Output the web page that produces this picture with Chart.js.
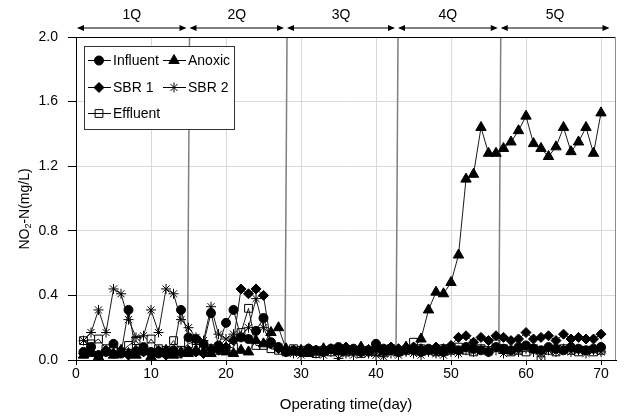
<!DOCTYPE html>
<html>
<head>
<meta charset="utf-8">
<script src="https://cdn.jsdelivr.net/npm/chart.js@4.4.1/dist/chart.umd.min.js"></script>
<style>
  html, body { margin: 0; padding: 0; background: #fff; }
  #wrap { width: 626px; height: 418px; }
</style>
</head>
<body>
<div id="wrap"><canvas id="no2-chart" width="626" height="418"></canvas></div>
<script>
const days = [
  1, 2, 3, 4, 5, 6, 7, 8, 9, 10, 11, 12, 13, 14, 15, 16, 17, 18, 19, 20,
  21, 22, 23, 24, 25, 26, 27, 28, 29, 30, 31, 32, 33, 34, 35, 36, 37, 38, 39, 40,
  41, 42, 43, 44, 45, 46, 47, 48, 49, 50, 51, 52, 53, 54, 55, 56, 57, 58, 59, 60,
  61, 62, 63, 64, 65, 66, 67, 68, 69, 70
];

const influent = [
  0.05, 0.08, 0.03, 0.05, 0.10, 0.04, 0.31, 0.05, 0.08, 0.05, 0.04, 0.05, 0.06, 0.31, 0.14, 0.13, 0.10, 0.29, 0.09, 0.23,
  0.31, 0.14, 0.13, 0.18, 0.26, 0.11, 0.08, 0.05, 0.06, 0.05, 0.07, 0.06, 0.05, 0.07, 0.08, 0.06, 0.07, 0.05, 0.06, 0.10,
  0.07, 0.06, 0.05, 0.07, 0.06, 0.05, 0.07, 0.06, 0.05, 0.07, 0.06, 0.08, 0.07, 0.06, 0.05, 0.08, 0.07, 0.06, 0.08, 0.09,
  0.07, 0.06, 0.08, 0.07, 0.06, 0.08, 0.07, 0.06, 0.07, 0.08
];
const anoxic = [
  0.03, 0.04, 0.02, 0.05, 0.03, 0.06, 0.04, 0.03, 0.05, 0.02, 0.04, 0.06, 0.03, 0.05, 0.04, 0.06, 0.05, 0.04, 0.07, 0.05,
  0.04, 0.06, 0.05, 0.12, 0.10, 0.17, 0.20, 0.07, 0.05, 0.06, 0.04, 0.05, 0.07, 0.06, 0.05, 0.07, 0.06, 0.08, 0.06, 0.07,
  0.05, 0.07, 0.06, 0.08, 0.07, 0.13, 0.31, 0.42, 0.41, 0.48, 0.65, 1.12, 1.15, 1.44, 1.28, 1.28, 1.31, 1.35, 1.42, 1.51,
  1.34, 1.31, 1.26, 1.32, 1.44, 1.29, 1.35, 1.44, 1.28, 1.53
];
const sbr1 = [
  0.04, 0.05, 0.03, 0.06, 0.04, 0.05, 0.03, 0.06, 0.05, 0.04, 0.06, 0.03, 0.05, 0.04, 0.06, 0.05, 0.04, 0.07, 0.06, 0.08,
  0.12, 0.44, 0.41, 0.44, 0.40, 0.10, 0.07, 0.05, 0.06, 0.05, 0.07, 0.06, 0.05, 0.07, 0.06, 0.08, 0.06, 0.07, 0.05, 0.07,
  0.06, 0.08, 0.07, 0.06, 0.08, 0.07, 0.06, 0.08, 0.07, 0.09, 0.14, 0.15, 0.11, 0.14, 0.12, 0.15, 0.14, 0.12, 0.13, 0.17,
  0.13, 0.14, 0.15, 0.12, 0.16, 0.13, 0.14, 0.13, 0.13, 0.16
];
const sbr2 = [
  0.12, 0.17, 0.31, 0.17, 0.44, 0.41, 0.25, 0.14, 0.15, 0.31, 0.17, 0.44, 0.41, 0.25, 0.20, 0.14, 0.12, 0.33, 0.16, 0.13,
  0.16, 0.15, 0.20, 0.38, 0.20, 0.10, 0.08, 0.06, 0.04, 0.03, 0.05, 0.04, 0.03, 0.05, 0.01, 0.04, 0.03, 0.05, 0.04, 0.03,
  0.02, 0.04, 0.03, 0.05, 0.04, 0.03, 0.05, 0.04, 0.03, 0.05, 0.04, 0.06, 0.05, 0.07, 0.05, 0.06, 0.04, 0.06, 0.05, 0.07,
  0.05, 0.04, 0.06, 0.05, 0.07, 0.05, 0.06, 0.04, 0.06, 0.05
];
const effluent = [
  0.12, 0.10, 0.13, 0.07, 0.06, 0.05, 0.09, 0.12, 0.06, 0.13, 0.07, 0.06, 0.12, 0.06, 0.10, 0.12, 0.08, 0.07, 0.06, 0.07,
  0.08, 0.17, 0.32, 0.09, 0.09, 0.07, 0.06, 0.05, 0.07, 0.06, 0.05, 0.04, 0.06, 0.05, 0.07, 0.05, 0.06, 0.04, 0.06, 0.05,
  0.06, 0.07, 0.05, 0.06, 0.11, 0.07, 0.06, 0.05, 0.07, 0.06, 0.08, 0.06, 0.05, 0.07, 0.06, 0.10, 0.07, 0.05, 0.06, 0.05,
  0.07, 0.00, 0.06, 0.05, 0.07, 0.06, 0.05, 0.06, 0.05, 0.06
];

const xTicks = [0, 10, 20, 30, 40, 50, 60, 70];
const yTicks = [0, 0.4, 0.8, 1.2, 1.6, 2.0];
const quarterLabels = ["1Q", "2Q", "3Q", "4Q", "5Q"];
const quarterEdges = [0, 15, 28, 42.8, 56.5, 71.4];

const FONT = "'Liberation Sans', Arial, sans-serif";

function series(label, values, pointStyle, radius, fill) {
  return {
    label: label,
    data: values.map((v, i) => ({ x: days[i], y: v })),
    showLine: true,
    borderColor: "#1a1a1a",
    borderWidth: 1,
    pointStyle: pointStyle,
    pointRadius: radius,
    pointBackgroundColor: fill,
    pointBorderColor: "#000",
    pointBorderWidth: 1,
    tension: 0,
  };
}

// quarter separators under the marks
const separators = {
  id: "separators",
  beforeDatasetsDraw(chart) {
    const { ctx, scales } = chart;
    ctx.save();
    ctx.strokeStyle = "#7f7f7f";
    ctx.lineWidth = 1.5;
    quarterEdges.slice(1, -1).forEach((d) => {
      const x = scales.x.getPixelForValue(d);
      ctx.beginPath();
      ctx.moveTo(x + 1, scales.y.getPixelForValue(2));
      ctx.lineTo(x - 1, scales.y.getPixelForValue(0.05));
      ctx.stroke();
    });
    ctx.restore();
  },
};

// frame, quarter arrows, legend box, y title
const overlay = {
  id: "overlay",
  afterDraw(chart) {
    const { ctx, chartArea, scales } = chart;
    const { left, right, top, bottom } = chartArea;
    ctx.save();

    // top and right edges of the plot
    ctx.lineWidth = 1;
    ctx.strokeStyle = "#000";
    ctx.beginPath();
    ctx.moveTo(left, top + 0.5);
    ctx.lineTo(right, top + 0.5);
    ctx.stroke();
    ctx.strokeStyle = "#8c8c8c";
    ctx.beginPath();
    ctx.moveTo(right - 0.5, top);
    ctx.lineTo(right - 0.5, bottom);
    ctx.stroke();

    // quarter arrows
    const ay = top - 9;
    ctx.strokeStyle = "#000";
    ctx.fillStyle = "#000";
    ctx.font = "14px " + FONT;
    ctx.textAlign = "center";
    ctx.textBaseline = "middle";
    quarterLabels.forEach((q, i) => {
      const x0 = scales.x.getPixelForValue(quarterEdges[i]) + 1;
      const x1 = scales.x.getPixelForValue(quarterEdges[i + 1]) - 2;
      ctx.beginPath();
      ctx.moveTo(x0 + 4, ay);
      ctx.lineTo(x1 - 4, ay);
      ctx.stroke();
      [[x0, 1], [x1, -1]].forEach(([x, dir]) => {
        ctx.beginPath();
        ctx.moveTo(x, ay);
        ctx.lineTo(x + dir * 7, ay - 3);
        ctx.lineTo(x + dir * 7, ay + 3);
        ctx.closePath();
        ctx.fill();
      });
      ctx.fillText(q, (x0 + x1) / 2, top - 22);
    });

    // legend box
    const bx = left + 8, by = top + 9, bw = 150, bh = 83;
    ctx.fillStyle = "#fff";
    ctx.fillRect(bx, by, bw, bh);
    ctx.strokeStyle = "#333";
    ctx.lineWidth = 1;
    ctx.strokeRect(bx + 0.5, by + 0.5, bw, bh);
    const cols = [bx + 4, bx + 79];
    const rows = [by + 14, by + 41, by + 67];
    ctx.textAlign = "left";
    ctx.font = "14px " + FONT;
    chart.data.datasets.forEach((ds, i) => {
      const x = cols[i % 2];
      const y = rows[Math.floor(i / 2)];
      ctx.strokeStyle = "#000";
      ctx.beginPath();
      ctx.moveTo(x, y + 0.5);
      ctx.lineTo(x + 23, y + 0.5);
      ctx.stroke();
      ctx.fillStyle = ds.pointBackgroundColor;
      Chart.helpers.drawPoint(ctx, {
        pointStyle: ds.pointStyle,
        radius: ds.pointRadius,
        borderWidth: 1,
        rotation: 0,
      }, x + 11, y + 0.5);
      ctx.fillStyle = "#000";
      ctx.fillText(ds.label, x + 25, y + 1);
    });

    // y axis title with subscript
    ctx.translate(25, 209);
    ctx.rotate(-Math.PI / 2);
    const big = "14px " + FONT, small = "9px " + FONT;
    ctx.font = big;
    const w1 = ctx.measureText("NO").width;
    const w3 = ctx.measureText("-N(mg/L)").width;
    ctx.font = small;
    const w2 = ctx.measureText("2").width;
    let tx = -(w1 + w2 + w3) / 2;
    ctx.fillStyle = "#000";
    ctx.textAlign = "left";
    ctx.font = big;
    ctx.fillText("NO", tx, 0);
    tx += w1;
    ctx.font = small;
    ctx.fillText("2", tx, 4);
    tx += w2;
    ctx.font = big;
    ctx.fillText("-N(mg/L)", tx, 0);

    ctx.restore();
  },
};

new Chart(document.getElementById("no2-chart"), {
  type: "scatter",
  data: {
    datasets: [
      series("Influent", influent, "circle", 4.5, "#000"),
      series("Anoxic", anoxic, "triangle", 6, "#000"),
      series("SBR 1", sbr1, "rectRot", 5, "#000"),
      series("SBR 2", sbr2, "star", 5, "#000"),
      series("Effluent", effluent, "rect", 5.5, "rgba(255,255,255,0)"),
    ],
  },
  options: {
    responsive: false,
    animation: false,
    layout: { padding: { top: 37, right: 10, left: 0, bottom: 0 } },
    plugins: {
      legend: { display: false },
      tooltip: { enabled: false },
    },
    scales: {
      x: {
        type: "linear",
        min: 0,
        max: 72,
        afterBuildTicks: (scale) => {
          scale.ticks = xTicks.map((v) => ({ value: v }));
        },
        afterFit: (scale) => {
          scale.height = 58;
        },
        grid: { color: "#d9d9d9", tickLength: 5, tickColor: "#000" },
        border: { color: "#000", width: 1 },
        ticks: { color: "#000", font: { family: FONT, size: 14 }, padding: 1, maxRotation: 0 },
        title: {
          display: true,
          text: "Operating time(day)",
          color: "#000",
          font: { family: FONT, size: 15 },
          padding: { top: 0, bottom: 4 },
        },
      },
      y: {
        min: 0,
        max: 2,
        afterBuildTicks: (scale) => {
          scale.ticks = yTicks.map((v) => ({ value: v }));
        },
        afterFit: (scale) => {
          scale.width = 76;
        },
        grid: { color: "#d9d9d9", tickLength: 8, tickColor: "#000" },
        border: { color: "#000", width: 1 },
        ticks: {
          color: "#000",
          font: { family: FONT, size: 14 },
          padding: 10,
          callback: (v) => v.toFixed(1),
        },
      },
    },
  },
  plugins: [separators, overlay],
});
</script>
</body>
</html>
